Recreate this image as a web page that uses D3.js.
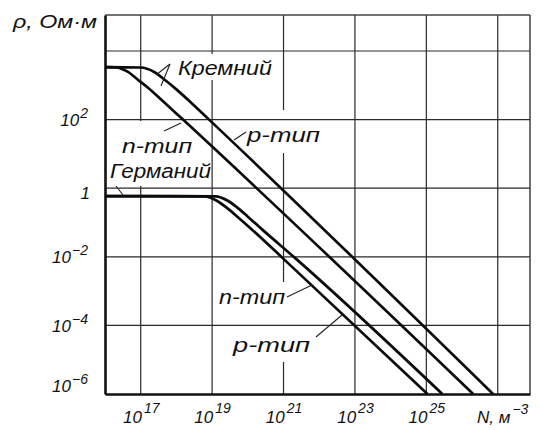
<!DOCTYPE html>
<html><head><meta charset="utf-8">
<script src="https://cdn.jsdelivr.net/npm/d3@7"></script>
<style>
html,body{margin:0;padding:0;background:#fff;}
svg{display:block;}
text{font-family:"Liberation Sans",Arial,sans-serif;font-style:italic;fill:#111;}
</style></head><body>
<svg id="chart" width="543" height="430"></svg>
<script>
// ---------- data ----------
const xTicks = [1e17, 1e19, 1e21, 1e23, 1e25];
const xTickLabels = [["10","17"],["10","19"],["10","21"],["10","23"],["10","25"]];
const xGrid = [1e17, 1e19, 1e21, 1e23, 1e25, 1e27];
const yTicks = [1e2, 1, 1e-2, 1e-4, 1e-6];
const yTickLabels = [["10","2"],["1",""],["10","\u22122"],["10","\u22124"],["10","\u22126"]];
const yGrid = [1e4, 1e2, 1, 1e-2, 1e-4];

// [N (m^-3), rho (Ohm*m)]
const siliconN = [[1e16,3400],[2e16,3350],[4.3e16,2500],[8e16,1500],[1.6e17,850],[4e17,360],[1.45e18,105],[2.05e26,1e-6]];
const siliconP = [[1e16,3400],[1e17,3300],[2.45e17,2400],[5e17,1380],[1e18,760],[2.5e18,320],[7.8e18,105],[7.4e26,1e-6]];
const germaniumN = [[1e16,0.59],[6.3e18,0.58],[1.35e19,0.43],[2.5e19,0.275],[5e19,0.15],[1.25e20,0.065],[1e21,0.0087],[1.07e25,1e-6]];
const germaniumP = [[1e16,0.59],[1.25e19,0.58],[2.75e19,0.43],[5e19,0.275],[1e20,0.148],[2.5e20,0.063],[2.25e21,0.0087],[2.8e25,1e-6]];
const seriesList = [siliconN, siliconP, germaniumN, germaniumP];

const yTitle = "\u03C1, \u041E\u043C\u00B7\u043C";
const xTitle = ["N, \u043C", "\u22123"];
const labelTexts = ["\u041A\u0440\u0435\u043C\u043D\u0438\u0439", "n-\u0442\u0438\u043F", "\u0413\u0435\u0440\u043C\u0430\u043D\u0438\u0439", "p-\u0442\u0438\u043F", "n-\u0442\u0438\u043F", "p-\u0442\u0438\u043F"];

// ---------- drawing ----------
const svg = d3.select("#chart");
const x = d3.scaleLog().domain([1e16, 8e27]).range([105, 530]);
const y = d3.scaleLog().domain([1e-6, 1.12e5]).range([394, 15]);
const X0 = x.range()[0], X1 = x.range()[1], Y0 = y.range()[0], Y1 = y.range()[1];

// vertical grid
svg.append("g").selectAll("line").data(xGrid).join("line")
  .attr("x1", d => x(d)).attr("x2", d => x(d))
  .attr("y1", Y1).attr("y2", Y0)
  .attr("stroke", "#2a2a2a").attr("stroke-width", 1.2);

// label layout (text index, x, baseline, width, white background box)
const labelLayout = [
  {i:0, x:178, y:75,  w:94,  size:21, box:[176,54,98,26]},
  {i:1, x:122, y:153, w:70,  size:20, box:[118,121,80,37]},
  {i:2, x:110, y:178, w:101, size:20, box:[108,158,101,28]},
  {i:3, x:247, y:142, w:73,  size:21, box:[243,110,80,43]},
  {i:4, x:219, y:304, w:66,  size:21, box:[215,282,74,28]},
  {i:5, x:233, y:352, w:77,  size:21, box:[229,310,84,52]}
];
svg.append("g").selectAll("rect").data(labelLayout).join("rect")
  .attr("x", d => d.box[0]).attr("y", d => d.box[1])
  .attr("width", d => d.box[2]).attr("height", d => d.box[3])
  .attr("fill", "#fff");

// horizontal grid
svg.append("g").selectAll("line").data(yGrid).join("line")
  .attr("x1", X0).attr("x2", X1)
  .attr("y1", d => y(d)).attr("y2", d => y(d))
  .attr("stroke", "#2a2a2a").attr("stroke-width", 1.2);

// frame
svg.append("line").attr("x1", X0).attr("x2", X1).attr("y1", Y1).attr("y2", Y1).attr("stroke", "#444").attr("stroke-width", 1.3);
svg.append("line").attr("x1", X1).attr("x2", X1).attr("y1", Y1).attr("y2", Y0).attr("stroke", "#333").attr("stroke-width", 1.4);

// axes
const xAxis = svg.append("g").attr("transform", `translate(0,${Y0})`)
  .call(d3.axisBottom(x).tickValues(xTicks).tickSize(0).tickFormat(""));
xAxis.select(".domain").attr("stroke", "#111").attr("stroke-width", 2.4);
xAxis.selectAll(".tick text").each(function(d, k) {
  const t = d3.select(this);
  t.attr("y", 29).attr("dy", 0).attr("text-anchor", "middle").attr("fill", "#111").attr("font-size", 17).text(null);
  t.append("tspan").text(xTickLabels[k][0]);
  t.append("tspan").attr("dy", -10).attr("dx", 2).attr("font-size", 14).text(xTickLabels[k][1]);
});
const yAxis = svg.append("g").attr("transform", `translate(${X0},0)`)
  .call(d3.axisLeft(y).tickValues(yTicks).tickSize(0).tickFormat(""));
yAxis.select(".domain").attr("stroke", "#111").attr("stroke-width", 2.6);
yAxis.selectAll(".tick text").each(function(d, k) {
  const t = d3.select(this);
  const lab = yTickLabels[k];
  let ty = 6, tx = -17;
  if (lab[1] === "") { ty = 10; tx = -15; }
  if (k === yTicks.length - 1) ty = -3;
  t.attr("x", tx).attr("y", ty).attr("dy", 0).attr("text-anchor", "end").attr("fill", "#111").attr("font-size", 17).text(null);
  t.append("tspan").text(lab[0]);
  if (lab[1]) t.append("tspan").attr("dy", -8).attr("dx", 1).attr("font-size", 14).text(lab[1]);
});

// curves
const line = d3.line().x(d => x(d[0])).y(d => y(d[1])).curve(d3.curveMonotoneX);
svg.append("g").selectAll("path").data(seriesList).join("path")
  .attr("d", line).attr("fill", "none").attr("stroke", "#0c0c0c")
  .attr("stroke-width", 2.7).attr("stroke-linejoin", "round");

// leader lines
const leaders = [
  [170,64,156,75],[170,64,161,86],
  [164,131,181,123],
  [246,132,234,140],
  [116,186,123,195],
  [287,297,312,285],
  [316,337,342,315]
];
svg.append("g").selectAll("line").data(leaders).join("line")
  .attr("x1", d => d[0]).attr("y1", d => d[1]).attr("x2", d => d[2]).attr("y2", d => d[3])
  .attr("stroke", "#222").attr("stroke-width", 1.1);

// labels
svg.append("g").selectAll("text").data(labelLayout).join("text")
  .attr("x", d => d.x).attr("y", d => d.y)
  .attr("font-size", d => d.size)
  .attr("textLength", d => d.w).attr("lengthAdjust", "spacingAndGlyphs")
  .text(d => labelTexts[d.i]);

// axis titles
svg.append("text").attr("x", 13).attr("y", 28).attr("font-size", 18)
  .attr("textLength", 84).attr("lengthAdjust", "spacingAndGlyphs").text(yTitle);
const xt = svg.append("text").attr("x", 477).attr("y", 423).attr("font-size", 17);
xt.append("tspan").text(xTitle[0]);
xt.append("tspan").attr("dy", -9).attr("dx", 2).attr("font-size", 14).text(xTitle[1]);
</script>
</body></html>
